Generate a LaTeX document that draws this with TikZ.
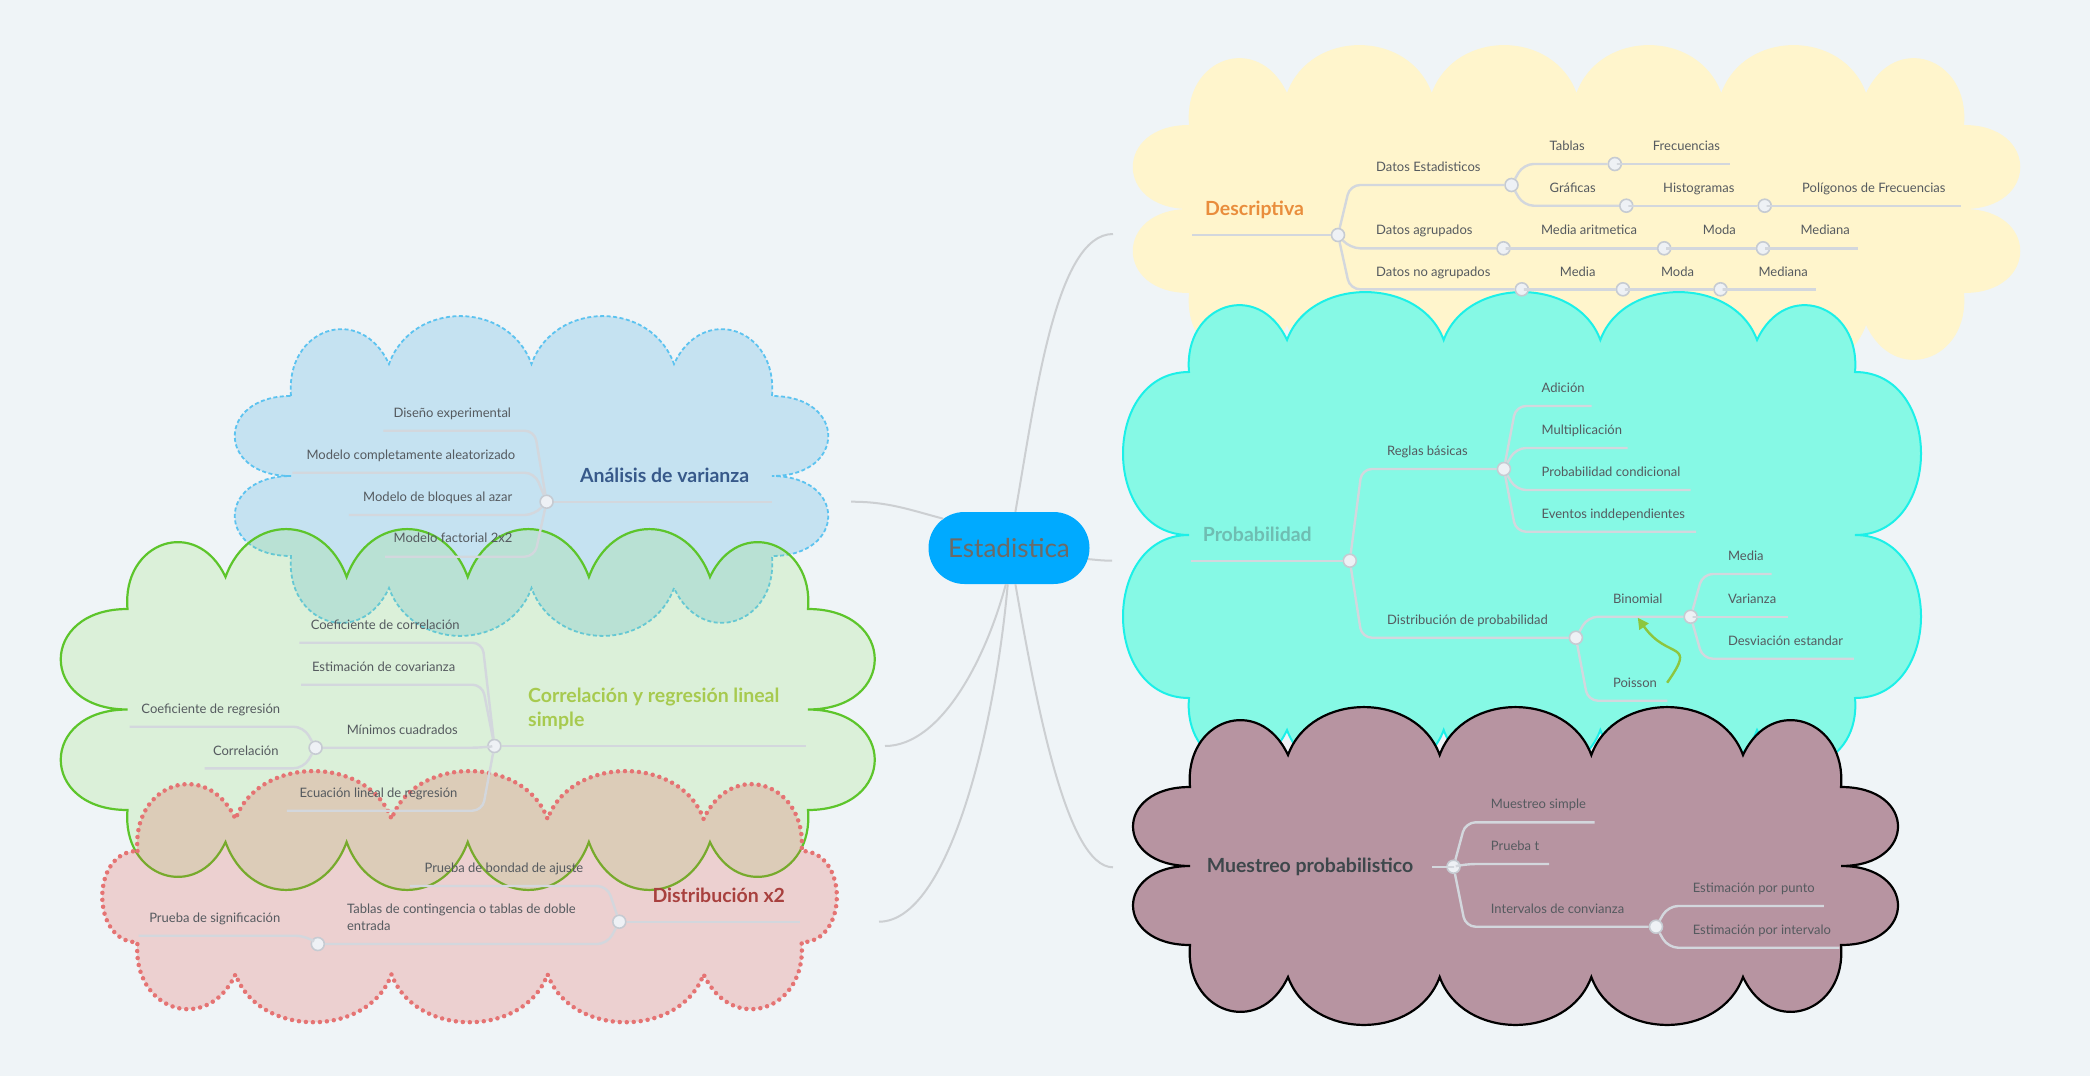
\documentclass[tikz,border=0pt]{standalone}
\usepackage{fontspec}
\setmainfont{Lato}
\usetikzlibrary{calc,arrows.meta,shapes.misc}

\definecolor{bg}{HTML}{EFF4F7}
\definecolor{linegrey}{HTML}{D3D7DD}
\definecolor{rootgrey}{HTML}{CCCFD2}
\definecolor{txtgrey}{HTML}{555A5F}
\definecolor{dotfill}{HTML}{EEF1F5}
\definecolor{dotdraw}{HTML}{C6CBD2}
\definecolor{rootblue}{HTML}{00AAFF}
\definecolor{roottext}{HTML}{6D6A66}
\definecolor{ylwfill}{HTML}{FFF5CC}
\definecolor{cyanfill}{HTML}{86F9E5}
\definecolor{cyandraw}{HTML}{1CF0E8}
\definecolor{purpfill}{HTML}{B794A1}
\definecolor{bluefill}{HTML}{1E9AD9}
\definecolor{bluedraw}{HTML}{5CC3F0}
\definecolor{grnfill}{HTML}{8CE061}
\definecolor{grndraw}{HTML}{5DC52B}
\definecolor{pinkfill}{HTML}{E14034}
\definecolor{pinkdraw}{HTML}{E57373}
\definecolor{desccol}{HTML}{E98D3C}
\definecolor{probcol}{HTML}{6FBDB2}
\definecolor{muescol}{HTML}{3E474B}
\definecolor{anovacol}{HTML}{37598A}
\definecolor{corrcol}{HTML}{A7CA4F}
\definecolor{chicol}{HTML}{A8403E}
\definecolor{arrowgreen}{HTML}{8DC63F}

% cloud: style, left, top, right, bottom, puffs on top, puffs on side, side bulge
\newcommand\cloud[8]{%
  \pgfmathsetmacro\topstep{(#4-#2-196)/#6}%
  \pgfmathsetmacro\sidestep{(#5-#3-64)/#7}%
  \path[#1] (#2,-#3-32)
    to[out=95,in=115,distance=68pt] (#2+98,-#3)
    \foreach \i in {1,...,#6} {to[out=70,in=110,distance=68pt] (#2+98+\i*\topstep,-#3)}
    to[out=65,in=85,distance=68pt] (#4,-#3-32)
    \foreach \i in {1,...,#7} {to[out=0,in=0,distance=#8pt] (#4,-#3-32-\i*\sidestep)}
    to[out=-85,in=-65,distance=68pt] (#4-98,-#5)
    \foreach \i in {1,...,#6} {to[out=-110,in=-70,distance=68pt] (#4-98-\i*\topstep,-#5)}
    to[out=-115,in=-95,distance=68pt] (#2,-#5+32)
    \foreach \i in {1,...,#7} {to[out=180,in=180,distance=#8pt] (#2,-#5+32+\i*\sidestep)}
    -- cycle;}

\tikzset{
  link/.style={draw=linegrey, line width=2.4pt, rounded corners=10pt},
  rootlink/.style={draw=rootgrey, line width=2pt},
  dot/.style={circle, fill=dotfill, draw=dotdraw, line width=1.6pt, minimum size=13pt, inner sep=0pt},
  lbl/.style={font=\fontsize{13}{16.4}\selectfont, text=txtgrey, inner sep=0pt, text height=9pt, text depth=0pt, anchor=west},
  lblr/.style={lbl, anchor=east},
  title/.style={font=\fontsize{19.5}{24.3}\selectfont\bfseries, inner sep=0pt, text height=14pt, text depth=0pt, anchor=west},
  root/.style={rounded rectangle, fill=rootblue, text=roottext, minimum width=161pt, minimum height=72pt, font=\fontsize{26}{30}\selectfont, inner sep=0pt},
  relarrow/.style={draw=arrowgreen, line width=2.4pt, -{Triangle[length=11pt,width=11pt]}},
  ylwcloud/.style={fill=ylwfill},
  cyancloud/.style={fill=cyanfill, draw=cyandraw, line width=2pt},
  purpcloud/.style={fill=purpfill, draw=black, line width=2.2pt},
  bluecloud/.style={fill=bluefill, fill opacity=.2, draw=bluedraw, line width=1.8pt, dash pattern=on 4pt off 2.5pt},
  grncloud/.style={fill=grnfill, fill opacity=.2, draw=grndraw, line width=2.2pt},
  pinkcloud/.style={fill=pinkfill, fill opacity=.2, draw=pinkdraw, line width=4.5pt, line cap=round, dash pattern=on 0pt off 7pt}
}

\begin{document}
\begin{tikzpicture}[x=1pt,y=1pt]
\fill[bg] (0,0) rectangle (2090,-1076);
\useasboundingbox (0,0) rectangle (2090,-1076);

% clouds
\cloud{bluecloud}{291}{364}{772}{588}{2}{2}{75}
\cloud{grncloud}{127.5}{577}{808}{842}{4}{2}{89}
\cloud{pinkcloud}{137.5}{819}{801.6}{974.3}{3}{1}{47}
\cloud{ylwcloud}{1189}{93}{1964}{325}{4}{2}{75}
\cloud{cyancloud}{1189}{340}{1855}{730}{3}{2}{88}
\cloud{purpcloud}{1190}{755}{1841}{977}{3}{2}{76}

% root
\node[root] (est) at (1009,-548) {Estadistica};

% Descriptiva
\node[title, text=desccol] (tdesc) at (1205,-208) {Descriptiva};
\coordinate (desc0) at (1192,-235);
\coordinate (descin) at (1113,-234);
\node[dot] (desc) at (1338,-235) {};
\node[dot] (dest) at (1511.5,-185) {};
\node[dot] (dtab) at (1614.8,-164) {};
\coordinate (dfrec) at (1729.6,-164);
\node[dot] (dgraf) at (1626.3,-205.7) {};
\node[dot] (dhist) at (1764.7,-205.7) {};
\coordinate (dpol) at (1961,-205.7);
\node[dot] (dagr) at (1503.5,-248.3) {};
\node[dot] (dmar) at (1664.2,-248.3) {};
\node[dot] (dmoda) at (1763,-248.3) {};
\coordinate (dmed) at (1857.7,-248.3);
\node[dot] (dnag) at (1521.8,-289.3) {};
\node[dot] (dmedia) at (1622.9,-289.3) {};
\node[dot] (dmoda2) at (1720.5,-289.3) {};
\coordinate (dmed2) at (1815.7,-289.3);

\node[lbl] (tdest) at (1376,-167) {Datos Estadisticos};
\node[lbl] (ttab) at (1549.4,-146) {Tablas};
\node[lbl] (tfrec) at (1652.7,-146) {Frecuencias};
\node[lbl] (tgraf) at (1549.4,-188) {Gráficas};
\node[lbl] (thist) at (1663,-188) {Histogramas};
\node[lbl] (tpol) at (1802,-188) {Polígonos de Frecuencias};
\node[lbl] (tagr) at (1376,-230) {Datos agrupados};
\node[lbl] (tmar) at (1540.8,-230) {Media aritmetica};
\node[lbl] (tmoda) at (1702.7,-230) {Moda};
\node[lbl] (tmed) at (1800.3,-230) {Mediana};
\node[lbl] (tnag) at (1376,-272) {Datos no agrupados};
\node[lbl] (tmedia) at (1559.7,-272) {Media};
\node[lbl] (tmoda2) at (1660.8,-272) {Moda};
\node[lbl] (tmed2) at (1758.3,-272) {Mediana};

% Probabilidad
\node[title, text=probcol] (tprob) at (1202.6,-534) {Probabilidad};
\coordinate (prob0) at (1190.5,-560.7);
\coordinate (probin) at (1112,-560.7);
\node[dot] (prob) at (1349.8,-560.7) {};
\node[dot] (preg) at (1503.9,-469) {};
\coordinate (padic) at (1591.7,-406);
\coordinate (pmult) at (1627.7,-448);
\coordinate (pcond) at (1690.7,-490);
\coordinate (pevent) at (1696,-531.7);
\node[dot] (pdist) at (1575.9,-637.7) {};
\node[dot] (pbin) at (1690.7,-616.7) {};
\coordinate (pmedia) at (1771.7,-574);
\coordinate (pvar) at (1787.6,-616.7);
\coordinate (pdesv) at (1853.8,-658.7);
\coordinate (ppois) at (1667.4,-700.7);

\node[lbl] (treg) at (1386.9,-451) {Reglas básicas};
\node[lbl] (tadic) at (1541.4,-387.7) {Adición};
\node[lbl] (tmult) at (1541.4,-430) {Multiplicación};
\node[lbl] (tcond) at (1541.4,-471.7) {Probabilidad condicional};
\node[lbl] (tevent) at (1541.4,-514) {Eventos inddependientes};
\node[lbl] (tdist) at (1386.9,-620) {Distribución de probabilidad};
\node[lbl] (tbin) at (1612.9,-599) {Binomial};
\node[lbl] (tpmedia) at (1727.8,-556) {Media};
\node[lbl] (tvar) at (1727.8,-599) {Varianza};
\node[lbl] (tdesv) at (1727.8,-641) {Desviación estandar};
\node[lbl] (tpois) at (1612.9,-682.7) {Poisson};

% Muestreo probabilistico
\node[title, text=muescol] (tmues) at (1206.6,-865.7) {Muestreo probabilistico};
\coordinate (mues0) at (1432,-866.7);
\coordinate (muesin) at (1113,-867.3);
\node[dot] (mues) at (1453.5,-866.7) {};
\coordinate (msimp) at (1594.5,-822.3);
\coordinate (mprueba) at (1549,-864);
\node[dot] (mint) at (1656,-926.7) {};
\coordinate (mpunto) at (1823.8,-906);
\coordinate (minterv) at (1839.3,-947.7);

\node[lbl] (tsimp) at (1490.7,-804) {Muestreo simple};
\node[lbl] (tprueba) at (1490.7,-845.7) {Prueba t};
\node[lbl] (tint) at (1490.7,-909) {Intervalos de convianza};
\node[lbl] (tpunto) at (1692.6,-888.3) {Estimación por punto};
\node[lbl] (tinterv) at (1692.6,-930) {Estimación por intervalo};

% Analisis de varianza
\node[title, text=anovacol] (tanova) at (579.8,-475) {Análisis de varianza};
\node[dot] (anova) at (546.6,-501.7) {};
\coordinate (anova0) at (772.2,-501.7);
\coordinate (anovain) at (851,-501.7);
\coordinate (adis) at (383.3,-430.7);
\coordinate (amca) at (292.4,-472.7);
\coordinate (ablq) at (348.8,-515);
\coordinate (afac) at (385,-556.7);

\node[lblr] (tadis) at (511.2,-412.7) {Diseño experimental};
\node[lblr] (tamca) at (515.5,-455) {Modelo completamente aleatorizado};
\node[lblr] (tablq) at (512.5,-496.7) {Modelo de bloques al azar};
\node[lblr] (tafac) at (512.5,-538.3) {Modelo factorial 2x2};

% Correlacion
\node[title, text=corrcol, align=left, anchor=north west, text height=, text depth=] (tcorr) at (528,-687.5) {Correlación y regresión lineal\\simple};
\node[dot] (corr) at (494.4,-746) {};
\coordinate (corr0) at (806,-746);
\coordinate (corrin) at (885,-746);
\coordinate (ccoef) at (299.3,-642.7);
\coordinate (ccov) at (301,-684.7);
\node[dot] (cmin) at (315.6,-747.7) {};
\coordinate (creg) at (129.7,-726.7);
\coordinate (ccorr) at (204.5,-768.3);
\coordinate (cecu) at (286.9,-810.7);

\node[lblr] (tccoef) at (459.8,-625) {Coeficiente de correlación};
\node[lblr] (tccov) at (455.4,-666.7) {Estimación de covarianza};
\node[lblr] (tcmin) at (458,-730) {Mínimos cuadrados};
\node[lblr] (tcreg) at (280.3,-709) {Coeficiente de regresión};
\node[lblr] (tccorr) at (278.7,-750.7) {Correlación};
\node[lblr] (tcecu) at (457.6,-792.7) {Ecuación lineal de regresión};

% Distribucion x2
\node[title, text=chicol] (tchi) at (652.3,-895) {Distribución x2};
\node[dot] (chi) at (619.3,-921.7) {};
\coordinate (chi0) at (800.1,-921.7);
\coordinate (chiin) at (879,-921.7);
\coordinate (cbond) at (409.9,-886);
\node[dot] (ctab) at (317.8,-944) {};
\coordinate (csig) at (138.5,-935.7);

\node[lblr] (tcbond) at (583.5,-867.7) {Prueba de bondad de ajuste};
\node[lbl, align=left, anchor=north west, text height=, text depth=] (tctab) at (346.9,-904) {Tablas de contingencia o tablas de doble\\entrada};
\node[lblr] (tcsig) at (280.5,-917.7) {Prueba de significación};

% branches
\foreach \from/\to in {desc0/desc, desc/dest, desc/dagr, desc/dnag, dest/dtab, dest/dgraf, dtab/dfrec, dgraf/dhist, dhist/dpol, dagr/dmar, dmar/dmoda, dmoda/dmed, dnag/dmedia, dmedia/dmoda2, dmoda2/dmed2, prob0/prob, prob/preg, prob/pdist, preg/padic, preg/pmult, preg/pcond, preg/pevent, pdist/pbin, pdist/ppois, pbin/pmedia, pbin/pvar, pbin/pdesv, mues0/mues, mues/msimp, mues/mprueba, mues/mint, mint/mpunto, mint/minterv}
  \draw[link] (\from) -- ($(\from |- \to)+(12,0)$) -- (\to);
\foreach \from/\to in {anova/adis, anova/amca, anova/ablq, anova/afac, corr/ccoef, corr/ccov, corr/cmin, corr/cecu, cmin/creg, cmin/ccorr, chi/cbond, chi/ctab, ctab/csig}
  \draw[link] (\from) -- ($(\from |- \to)+(-12,0)$) -- (\to);
\foreach \from/\to in {anova/anova0, corr/corr0, chi/chi0}
  \draw[link] (\from) -- (\to);

% root links
\draw[rootlink] (est.80) to[out=80,in=180,in looseness=.5] (descin);
\draw[rootlink] (est.-8) to[out=-5,in=180] (probin);
\draw[rootlink] (est.-80) to[out=-80,in=180,in looseness=.4] (muesin);
\draw[rootlink] (est.156) to[out=165,in=0] (anovain);
\draw[rootlink] (est.-95) to[out=-105,in=0,in looseness=.7] (corrin);
\draw[rootlink] (est.-92) to[out=-95,in=0,in looseness=.5] (chiin);

% Poisson -> Binomial
\draw[relarrow] ([xshift=10pt]tpois.east) to[out=55,in=-55,looseness=1.9] ([yshift=-14pt]tbin.south);
\end{tikzpicture}
\end{document}
